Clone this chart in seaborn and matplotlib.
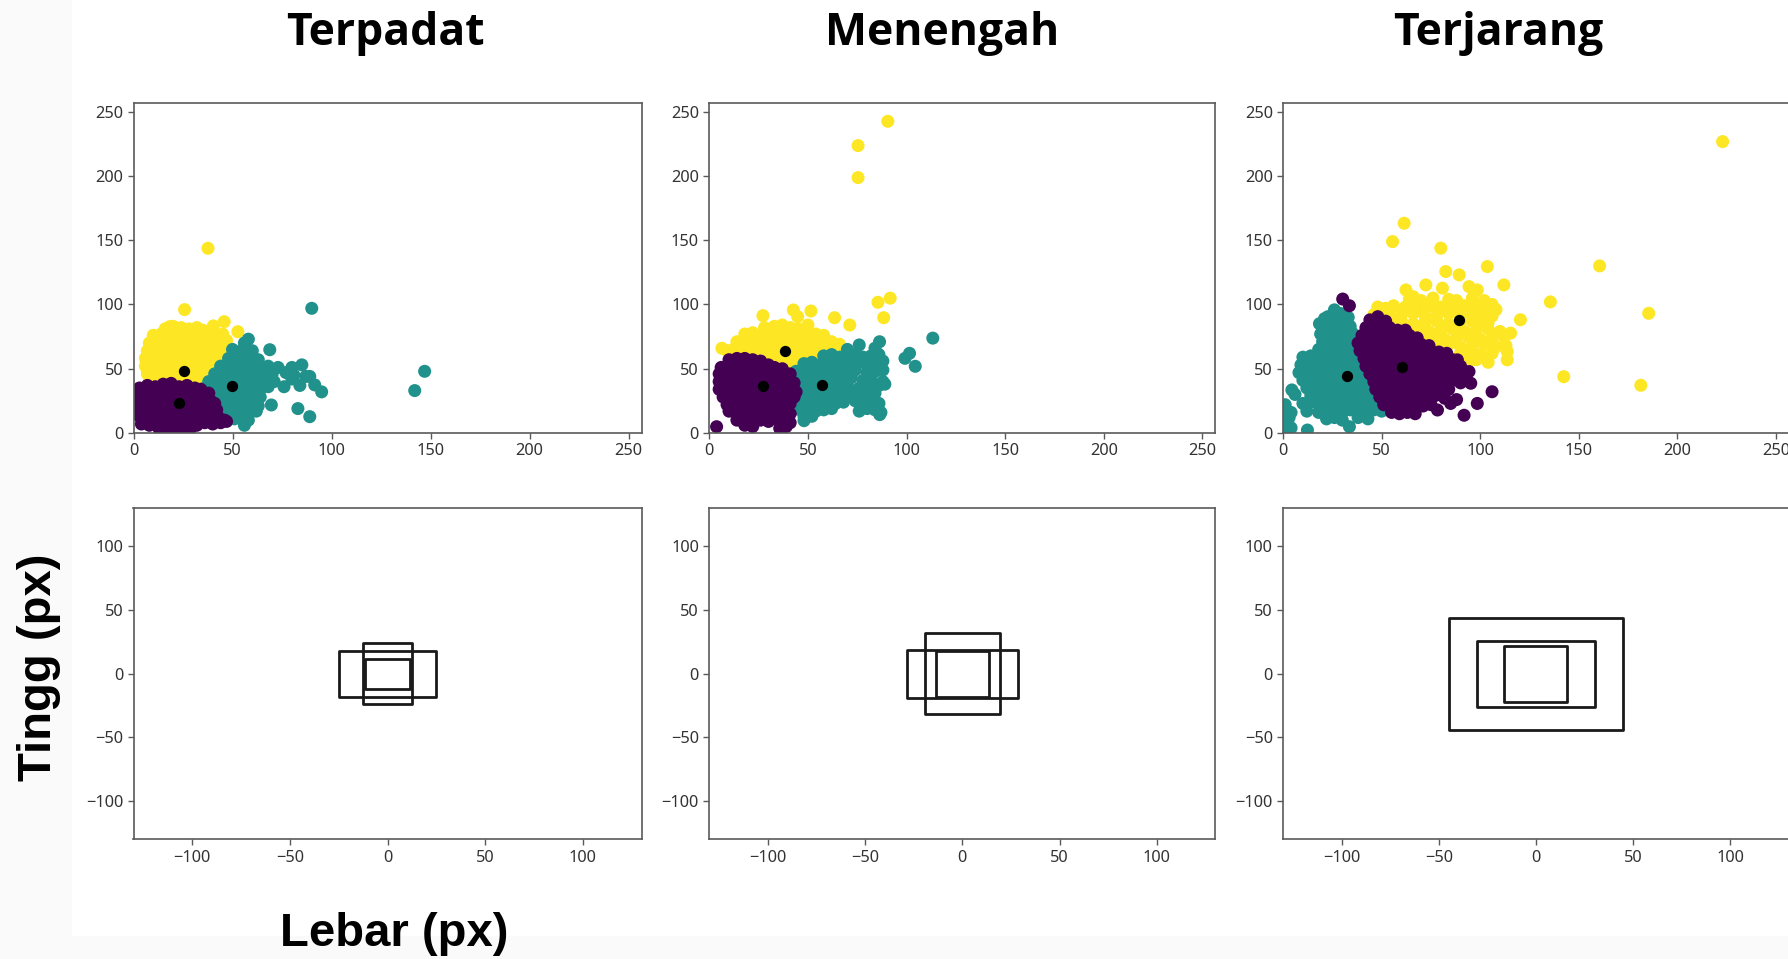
import matplotlib
matplotlib.use("Agg")
import matplotlib.pyplot as plt
from matplotlib.patches import Rectangle
from matplotlib import font_manager
import pandas as pd
import seaborn as sns

# ---------------------------------------------------------------------------
# Data: bounding-box sizes (lebar, tinggi) in pixels, grouped by k-means cluster
# ---------------------------------------------------------------------------
PANELS = ["Terpadat", "Menengah", "Terjarang"]
CLUSTER_COLORS = {0: "#440154", 1: "#21918c", 2: "#fde725"}

# --- Terpadat ---------------------------------------------------------------
TERPADAT_C0 = [
    (3, 35), (7, 37), (11, 36), (15, 38), (19, 38.6), (23, 36), (27, 37), (31, 35), (34, 34),
    (2, 30), (6, 31), (10, 30), (14, 32), (18, 31), (22, 30), (26, 32), (30, 31), (34, 30), (38, 31),
    (3, 25), (7, 24), (11, 26), (15, 25), (19, 24), (23, 26), (27, 25), (31, 24), (35, 26), (39, 25), (41, 23),
    (2, 19), (6, 18), (10, 20), (14, 19), (18, 18), (22, 20), (26, 19), (30, 18), (34, 20), (38, 19), (42, 18),
    (3, 13), (7, 12), (11, 14), (15, 13), (19, 12), (23, 14), (27, 13), (31, 12), (35, 14), (39, 13), (43, 12), (46, 10),
    (4, 7), (8, 6), (12, 8), (16, 7), (20, 6), (24, 8), (28, 7), (32, 6), (36, 8), (40, 7), (44, 8), (47, 9),
    (13, 3), (17, 2), (21, 2), (25, 3), (29, 4),
]
TERPADAT_C1 = [
    (56, 70), (58, 73), (50, 65), (53, 63), (56, 66), (60, 64), (68.8, 64.8),
    (48, 58), (52, 59), (56, 58), (60, 59), (63, 57),
    (44, 52), (48, 53), (52, 52), (56, 53), (60, 52), (64, 51), (68, 52), (73, 51), (80, 51), (85, 53),
    (41, 46), (45, 47), (49, 46), (53, 45), (57, 47), (61, 46), (65, 45), (70, 46), (77, 47), (81, 45), (87, 44),
    (38, 40), (42, 41), (46, 40), (50, 39), (54, 41), (58, 40), (62, 39), (66, 41), (71, 40), (80, 42), (89, 44),
    (36, 35), (40, 34), (44, 36), (48, 35), (52, 34), (56, 36), (60, 35), (64, 34), (68, 36), (76, 36),
    (84, 37), (91.5, 37.4), (95, 32),
    (40, 29), (44, 30), (48, 29), (52, 28), (56, 30), (60, 29), (64, 28),
    (44, 23), (48, 24), (52, 22), (56, 24), (60, 23), (63, 21), (69.6, 21.8),
    (47, 17), (51, 18), (55, 16), (59, 18), (62, 17), (83, 19),
    (51, 11), (55, 12), (58, 10), (89, 12.7), (56, 6),
    (90, 97), (142, 33), (147, 48),
]
TERPADAT_C2 = [
    (25.8, 96), (37.6, 143.7), (52.7, 78.8), (45.8, 86.6), (40.3, 83.3), (18.3, 82.7), (16, 81),
    (20, 83), (24, 82), (28, 81), (32, 82), (35, 80),
    (10, 76), (14, 77), (18, 76), (22, 75), (26, 77), (30, 76), (34, 75), (38, 77), (42, 76), (45, 77),
    (8, 70), (12, 69), (16, 71), (20, 70), (24, 69), (28, 71), (32, 70), (36, 69), (40, 71), (44, 70), (47, 72),
    (7, 64), (11, 63), (15, 65), (19, 64), (23, 63), (27, 65), (31, 64), (35, 63), (39, 65), (43, 64), (46, 66),
    (6, 58), (10, 57), (14, 59), (18, 58), (22, 57), (26, 59), (30, 58), (34, 57), (38, 59), (42, 58), (44, 60),
    (6, 52), (10, 51), (14, 53), (18, 52), (22, 51), (26, 53), (30, 52), (34, 51), (38, 53), (41, 52),
    (7, 46), (11, 45), (15, 47), (19, 46), (23, 45), (27, 47), (31, 46), (35, 45), (38, 47),
    (8, 40), (12, 39), (16, 41), (20, 40), (24, 39), (28, 41), (32, 40), (35, 39),
    (11, 35), (15, 36), (19, 35), (23, 36), (27, 35), (31, 36),
]
TERPADAT_CENTROIDS = [(22.8, 23.5), (49.9, 36.4), (25.3, 48.2)]

# --- Menengah ---------------------------------------------------------------
MENENGAH_C0 = [
    (10, 57), (14, 58), (18, 58), (22, 57), (26, 56),
    (6, 51), (10, 52), (14, 53), (18, 52), (22, 51), (26, 52), (30, 53), (33, 51), (37, 50),
    (5, 46), (9, 45), (13, 47), (17, 46), (21, 45), (25, 47), (29, 46), (33, 45), (37, 47), (41, 46),
    (5, 40), (9, 39), (13, 41), (17, 40), (21, 39), (25, 41), (29, 40), (33, 39), (37, 41), (41, 40), (43, 39),
    (5, 34), (9, 33), (13, 35), (17, 34), (21, 33), (25, 35), (29, 34), (33, 33), (37, 35), (41, 34), (44, 32),
    (7, 28), (11, 27), (15, 29), (19, 28), (23, 27), (27, 29), (31, 28), (35, 27), (39, 29), (43, 28),
    (9, 22), (13, 21), (17, 23), (21, 22), (25, 21), (29, 23), (33, 22), (37, 21), (41, 23),
    (10, 17), (14, 15), (18, 16), (22, 15), (26, 17), (30, 16), (34, 15), (38, 17), (41, 15),
    (14, 10), (18, 9), (22, 11), (26, 10), (30, 9), (34, 11), (38, 10), (41, 8),
    (18, 6), (22, 5), (35.7, 3.6), (39, 5), (3.7, 4.9),
]
MENENGAH_C1 = [
    (113.3, 73.8), (99.2, 58.1), (101.5, 62), (104.4, 51.9), (86.4, 14.3), (48, 9.6),
    (70, 65), (76, 68.5), (84, 66), (86.3, 71),
    (58, 60), (62, 61), (66, 59), (70, 60), (74, 61), (78, 59), (82, 60), (86, 61),
    (48, 54), (52, 55), (56, 53), (60, 54), (64, 55), (68, 53), (72, 54), (76, 55), (80, 53), (84, 54), (88, 56),
    (44, 48), (48, 49), (52, 47), (56, 48), (60, 49), (64, 47), (68, 48), (74, 49), (80, 47), (84, 48), (88, 49),
    (44, 42), (48, 43), (52, 41), (56, 42), (60, 43), (64, 41), (68, 42), (72, 43), (78, 41), (82, 42), (88, 40),
    (42, 36), (46, 37), (50, 35), (54, 36), (58, 37), (62, 35), (66, 36), (70, 37), (76, 35), (80, 36), (86, 37), (89, 38),
    (43, 30), (47, 31), (51, 29), (55, 30), (59, 31), (63, 29), (67, 30), (71, 31), (75, 29), (80, 30), (84, 31),
    (44, 24), (48, 25), (52, 23), (56, 24), (60, 25), (64, 23), (68, 24), (74, 25), (78, 23), (82, 24), (86, 23),
    (46, 18), (50, 19), (54, 17), (58, 18), (62, 19), (76, 17), (80, 19), (84, 18), (87, 16),
    (48, 12.7), (52, 13),
]
MENENGAH_C2 = [
    (75.4, 223.6), (75.4, 198.7), (90.5, 242.5), (27.2, 91.3), (51.5, 94.9), (63.5, 89.7), (71.2, 84),
    (85.5, 101.7), (91.7, 104.9), (88.4, 89.7), (42.6, 95.7), (44.8, 90.5), (6.4, 65.9), (9, 64),
    (28, 82), (33, 83), (37, 84), (41, 82), (45, 81), (50, 84),
    (18, 77), (22, 78), (26, 76), (30, 77), (34, 78), (38, 76), (42, 77), (46, 78), (50, 76), (54, 77), (58, 76),
    (14, 71), (18, 72), (22, 70), (26, 71), (30, 72), (34, 70), (38, 71), (42, 72), (46, 70), (50, 71),
    (54, 72), (58, 70), (62, 71), (66, 69),
    (12, 65), (16, 66), (20, 64), (24, 65), (28, 66), (32, 64), (36, 65), (40, 66), (44, 64), (48, 65),
    (52, 66), (56, 64), (60, 65), (64, 66), (68, 63),
    (14, 60), (18, 61), (30, 59), (34, 60), (38, 61), (42, 59), (46, 60), (50, 61), (54, 59),
    (38, 55), (42, 54), (46, 56),
]
MENENGAH_CENTROIDS = [(27.2, 36.4), (57.1, 37.7), (38.6, 63.5)]

# --- Terjarang --------------------------------------------------------------
TERJARANG_C0 = [
    (30.2, 104.2), (33.6, 99),
    (44, 88), (48, 90.5), (52, 87),
    (42, 82), (44.6, 85.3), (46, 81), (50, 83), (54, 82), (58, 80), (62, 80),
    (40, 76), (44, 77), (48, 75), (52, 76), (56, 77), (60, 75), (64, 76), (68, 74),
    (38, 70), (42, 71), (46, 69), (50, 70), (54, 71), (58, 69), (62, 70), (66, 71), (70, 69), (74, 68),
    (39, 64), (43, 65), (47, 63), (51, 64), (55, 65), (59, 63), (63, 64), (67, 65), (71, 63), (75, 64), (79, 63), (83, 62),
    (41, 58), (45, 59), (49, 57), (53, 58), (57, 59), (61, 57), (65, 58), (69, 59), (73, 57), (77, 58), (81, 59),
    (86, 57), (88.4, 56.9),
    (42, 52), (46, 53), (50, 51), (54, 52), (58, 53), (62, 51), (66, 52), (70, 53), (74, 51), (78, 52), (82, 53),
    (86, 51), (90, 52),
    (44, 46), (48, 47), (52, 45), (56, 46), (60, 47), (64, 45), (68, 46), (72, 47), (76, 45), (80, 46), (84, 47),
    (88, 45), (92, 46), (94.3, 47.8),
    (46, 40), (50, 41), (54, 39), (58, 40), (62, 41), (66, 39), (70, 40), (74, 41), (78, 39), (82, 40), (86, 41),
    (90, 39), (95.2, 38.7),
    (47, 34), (51, 35), (55, 33), (59, 34), (63, 35), (67, 33), (71, 34), (75, 35), (79, 33), (84, 34),
    (49, 28), (53, 29), (57, 27), (61, 28), (65, 29), (69, 27), (73, 28), (77, 29), (82, 27), (88, 26),
    (51, 22), (55, 23), (59, 21), (63, 22), (67, 23), (71, 21), (75, 22), (85, 23), (98.5, 23),
    (55, 16), (59, 15), (63, 16), (67, 15), (78.3, 17.9),
    (91.8, 13.8), (106, 32.1),
]
TERJARANG_C1 = [
    (26, 95.8), (29, 93),
    (21, 89), (22.7, 90.5), (25, 89), (29, 88), (33, 90),
    (18.4, 85), (22, 83), (26, 82), (30, 84), (34, 83),
    (19, 77), (23, 78), (27, 76), (31, 77), (35, 78),
    (20, 71), (24, 72), (28, 70), (32, 71), (36, 72), (39, 70),
    (18, 65), (22, 66), (26, 64), (30, 65), (34, 66), (38, 64), (41, 65),
    (10, 59), (14, 60), (18, 58), (22, 59), (26, 60), (30, 58), (34, 59), (38, 60), (42, 58),
    (9, 53), (13, 54), (17, 52), (21, 53), (25, 54), (29, 52), (33, 53), (37, 54), (41, 52), (44, 53),
    (8, 47), (12, 48), (16, 46), (20, 47), (24, 48), (28, 46), (32, 47), (36, 48), (40, 46), (44, 47),
    (10, 41), (14, 42), (18, 40), (22, 41), (26, 42), (30, 40), (34, 41), (38, 42), (42, 40), (46, 41),
    (4.4, 33.5), (12, 35), (16, 36), (20, 34), (24, 35), (28, 36), (32, 34), (36, 35), (40, 36), (44, 34), (47, 35),
    (6, 30), (14, 29), (18, 30), (22, 28), (26, 29), (30, 30), (34, 28), (38, 29), (42, 30), (46, 28), (49, 29),
    (1, 22), (10, 23), (16, 24), (20, 22), (24, 23), (28, 24), (32, 22), (36, 23), (40, 24), (44, 22), (48, 23), (51, 21),
    (0.5, 17), (4, 16), (12, 17), (18, 16), (22, 18), (26, 17), (30, 16), (34, 18), (38, 17), (42, 16), (46, 18), (50, 17),
    (1, 11), (3, 12), (22, 11), (26, 12), (30, 10), (38, 12), (43, 11),
    (1, 5), (4, 4), (33.6, 4.9), (12.3, 2.3),
]
TERJARANG_C2 = [
    (61.4, 163.2), (55.5, 148.9), (80, 143.8), (103.6, 129.5), (82.5, 125.6), (89.3, 123), (112, 115.2),
    (135.6, 102), (120.4, 88.1), (142.4, 43.8), (223, 226.7), (160.6, 130), (185.5, 93.1), (181.5, 37.1),
    (62.3, 111.3), (72.4, 115.2), (80.8, 112.7), (94.3, 113.9), (98.5, 111.3), (66, 106),
    (64, 104), (70, 103), (76, 105), (84, 104), (88, 103), (96, 105), (102, 103), (106, 100),
    (48, 98), (52, 97), (56, 99), (62, 98), (68, 97), (74, 99), (80, 98), (86, 97), (92, 99), (98, 98), (104, 97), (108, 96),
    (46, 92), (50, 93), (54, 91), (60, 92), (66, 93), (72, 91), (78, 92), (84, 93), (90, 91), (96, 92), (100, 93), (106, 91),
    (56, 86), (60, 87), (66, 85), (72, 86), (78, 87), (84, 85), (90, 86), (96, 87), (100, 85), (104, 86),
    (64, 80), (68, 81), (74, 79), (80, 80), (86, 81), (92, 79), (98, 80), (104, 81), (110, 79),
    (72, 74), (76, 75), (82, 73), (88, 74), (94, 75), (100, 73), (106, 74), (112, 75), (115.4, 77.7),
    (80, 68), (84, 69), (90, 67), (96, 68), (102, 69), (108, 67), (113, 68),
    (90, 62), (94, 63), (100, 61), (106, 62), (113.7, 63.4),
    (94, 56), (98, 57), (104, 55), (113.7, 56.9),
]
TERJARANG_CENTROIDS = [(60.4, 51.5), (32.5, 44.3), (89.4, 88.0)]

POINTS = {
    "Terpadat": (TERPADAT_C0, TERPADAT_C1, TERPADAT_C2),
    "Menengah": (MENENGAH_C0, MENENGAH_C1, MENENGAH_C2),
    "Terjarang": (TERJARANG_C0, TERJARANG_C1, TERJARANG_C2),
}
CENTROIDS = {
    "Terpadat": TERPADAT_CENTROIDS,
    "Menengah": MENENGAH_CENTROIDS,
    "Terjarang": TERJARANG_CENTROIDS,
}
TOP_TICKS = [0, 50, 100, 150, 200, 250]
BOTTOM_TICKS = [-100, -50, 0, 50, 100]

# ---------------------------------------------------------------------------
# Style
# ---------------------------------------------------------------------------
sns.set_theme(style="white")
plt.rcParams["font.family"] = ["Noto Sans", "DejaVu Sans"]
plt.rcParams["axes.unicode_minus"] = True


def pick_bold_family(candidates):
    """First candidate family that ships a real bold face."""
    for fam in candidates:
        for f in font_manager.fontManager.ttflist:
            if f.name == fam and (f.weight in (600, 700, 800, 900, "bold", "semibold", "heavy", "black")):
                return fam
    return "DejaVu Sans"


TITLE_FAMILY = pick_bold_family(["Noto Sans", "Open Sans", "Lato", "Roboto"])
LABEL_FAMILY = pick_bold_family(["Liberation Sans", "Arial", "DejaVu Sans"])

W, H = 1788, 959
fig = plt.figure(figsize=(W / 100, H / 100), dpi=100)
fig.patch.set_facecolor("white")

# light grey margins of the slide
fig.add_artist(Rectangle((0, 0), 71.5 / W, 1, transform=fig.transFigure,
                         facecolor="#fafafa", edgecolor="none", zorder=-5))
fig.add_artist(Rectangle((0, 0), 1, (H - 935.5) / H, transform=fig.transFigure,
                         facecolor="#fafafa", edgecolor="none", zorder=-5))


def add_axes_px(left, top, right, bottom):
    return fig.add_axes([left / W, 1 - bottom / H, (right - left) / W, (bottom - top) / H])


def style_axes(ax, ticks, lim):
    ax.set_xlim(*lim[0])
    ax.set_ylim(*lim[1])
    ax.set_xticks(ticks)
    ax.set_yticks(ticks)
    ax.set_xlabel("")
    ax.set_ylabel("")
    ax.set_facecolor("white")
    for sp in ax.spines.values():
        sp.set_visible(True)
        sp.set_color("#5a5a5a")
        sp.set_linewidth(1.2)
    ax.tick_params(axis="both", which="major", bottom=True, left=True, direction="out",
                   length=4, width=1.0, color="#5a5a5a", labelsize=11.8,
                   labelcolor="#333333", pad=3.5)


LEFTS = [133.5, 709.3, 1283.2]
RIGHTS = [641.5, 1215.3, 1788.6]
TITLE_X = [385.5, 941.8, 1497.9]

for i, name in enumerate(PANELS):
    # ---- top row: scatter of the clusters ----
    ax = add_axes_px(LEFTS[i], 103.3, RIGHTS[i], 433.0)
    c0, c1, c2 = POINTS[name]
    frames = []
    for label, pts in ((2, c2), (1, c1), (0, c0)):
        frames.append(pd.DataFrame({"lebar": [p[0] for p in pts],
                                    "tinggi": [p[1] for p in pts],
                                    "klaster": label}))
    df = pd.concat(frames, ignore_index=True)
    sns.scatterplot(data=df, x="lebar", y="tinggi", hue="klaster", palette=CLUSTER_COLORS,
                    s=88, linewidth=0, alpha=1.0, legend=False, ax=ax)
    cen = pd.DataFrame(CENTROIDS[name], columns=["lebar", "tinggi"])
    sns.scatterplot(data=cen, x="lebar", y="tinggi", color="black", s=66,
                    linewidth=0, legend=False, ax=ax, zorder=4)
    style_axes(ax, TOP_TICKS, ((0, 256.5), (0, 256.5)))

    # ---- bottom row: centroid boxes centred on the origin ----
    axb = add_axes_px(LEFTS[i], 508.3, RIGHTS[i], 839.3)
    for w, h in CENTROIDS[name]:
        axb.add_patch(Rectangle((-w / 2, -h / 2), w, h, fill=False, edgecolor="#1a1a1a",
                                linewidth=2.0, joinstyle="round"))
    style_axes(axb, BOTTOM_TICKS, ((-130, 130), (-130, 130)))

    fig.text(TITLE_X[i] / W, 1 - 45 / H, name, ha="center", va="baseline",
             fontsize=32, fontweight="bold", color="black", family=TITLE_FAMILY)

fig.text(39 / W, 1 - 667 / H, "Tingg (px)", rotation=90, ha="center", va="center",
         fontsize=34, fontweight="bold", color="black", family=LABEL_FAMILY)
fig.text(394 / W, 1 - 946 / H, "Lebar (px)", ha="center", va="baseline",
         fontsize=34, fontweight="bold", color="black", family=LABEL_FAMILY)

fig.savefig("out.png", dpi=100, facecolor=fig.get_facecolor())
